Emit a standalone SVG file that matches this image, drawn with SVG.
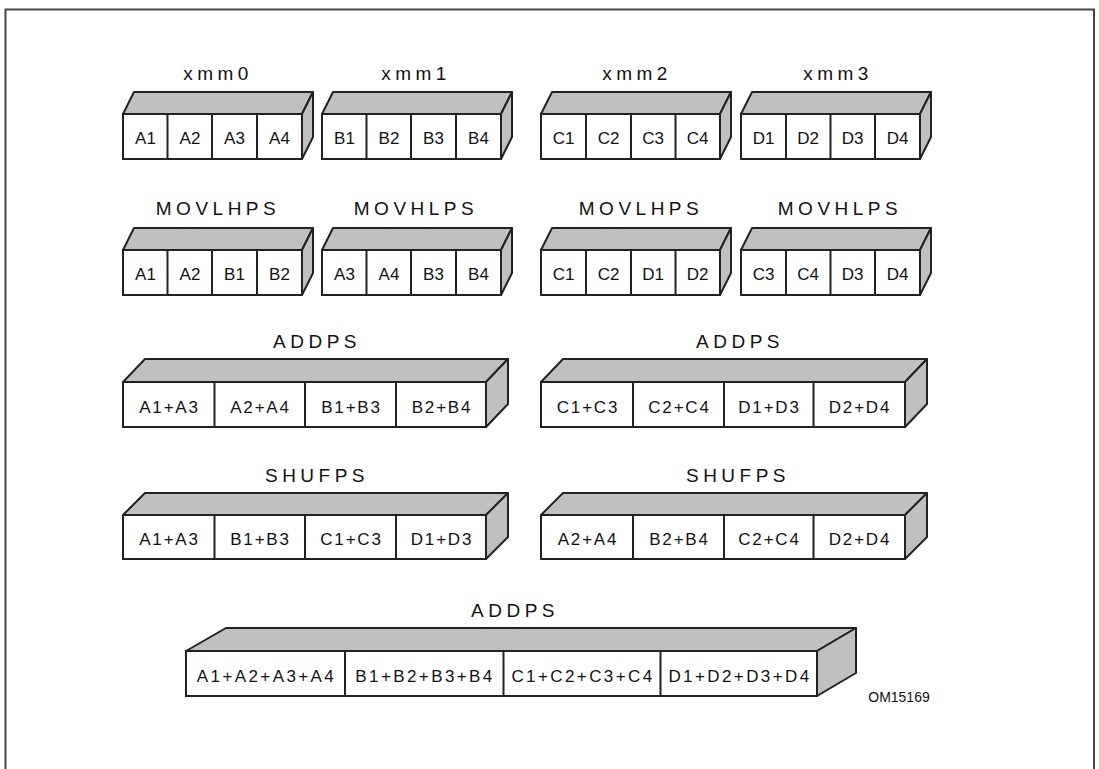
<svg xmlns="http://www.w3.org/2000/svg" width="1099" height="769" viewBox="0 0 1099 769">
<style>
.face{fill:#c0c0c0;stroke:#222;stroke-width:2;stroke-linejoin:round}
.front{fill:#fff;stroke:#222;stroke-width:2}
.div{stroke:#222;stroke-width:2}
.title{font-family:"Liberation Sans",Arial,sans-serif;font-size:19px;letter-spacing:4.5px;fill:#111;text-anchor:middle}
.cell{font-family:"Liberation Sans",Arial,sans-serif;font-size:17px;fill:#111;text-anchor:middle}
.wcell{font-family:"Liberation Sans",Arial,sans-serif;font-size:17px;letter-spacing:1.8px;fill:#111;text-anchor:middle}
.bcell{font-family:"Liberation Sans",Arial,sans-serif;font-size:17px;letter-spacing:2.4px;fill:#111;text-anchor:middle}
.code{font-family:"Liberation Sans",Arial,sans-serif;font-size:14px;fill:#111;text-anchor:middle}
</style>
<rect width="1099" height="769" fill="#fff"/>
<g id="frame">
<path d="M5.5 769 V9.5 H1094 V769" fill="none" stroke="#444" stroke-width="2"/>
</g>

<g id="xmm0">
<text class="title" x="218" y="80">xmm0</text>
<polygon class="face" points="123,114 134,92 313,92 302,114"/>
<polygon class="face" points="302,114 313,92 313,137 302,159"/>
<rect class="front" x="123" y="114" width="179" height="45"/>
<path class="div" d="M167.5 114V159M212 114V159M257 114V159"/>
<text class="cell" x="145.5" y="144">A1</text><text class="cell" x="190" y="144">A2</text><text class="cell" x="234.5" y="144">A3</text><text class="cell" x="279.5" y="144">A4</text>
</g>
<g id="xmm1">
<text class="title" x="416" y="80">xmm1</text>
<polygon class="face" points="322,114 333,92 512,92 501,114"/>
<polygon class="face" points="501,114 512,92 512,137 501,159"/>
<rect class="front" x="322" y="114" width="179" height="45"/>
<path class="div" d="M366.5 114V159M411 114V159M456 114V159"/>
<text class="cell" x="344.5" y="144">B1</text><text class="cell" x="389" y="144">B2</text><text class="cell" x="433.5" y="144">B3</text><text class="cell" x="478.5" y="144">B4</text>
</g>
<g id="xmm2">
<text class="title" x="637" y="80">xmm2</text>
<polygon class="face" points="541,114 552,92 731,92 720,114"/>
<polygon class="face" points="720,114 731,92 731,137 720,159"/>
<rect class="front" x="541" y="114" width="179" height="45"/>
<path class="div" d="M586 114V159M631 114V159M675.5 114V159"/>
<text class="cell" x="563.5" y="144">C1</text><text class="cell" x="608.5" y="144">C2</text><text class="cell" x="653" y="144">C3</text><text class="cell" x="697.5" y="144">C4</text>
</g>
<g id="xmm3">
<text class="title" x="838" y="80">xmm3</text>
<polygon class="face" points="741,114 752,92 931,92 920,114"/>
<polygon class="face" points="920,114 931,92 931,137 920,159"/>
<rect class="front" x="741" y="114" width="179" height="45"/>
<path class="div" d="M786 114V159M830.5 114V159M875 114V159"/>
<text class="cell" x="763.5" y="144">D1</text><text class="cell" x="808" y="144">D2</text><text class="cell" x="852.5" y="144">D3</text><text class="cell" x="897.5" y="144">D4</text>
</g>

<g id="movlhps1">
<text class="title" x="218" y="215">MOVLHPS</text>
<polygon class="face" points="123,250 134,228 313,228 302,250"/>
<polygon class="face" points="302,250 313,228 313,273 302,295"/>
<rect class="front" x="123" y="250" width="179" height="45"/>
<path class="div" d="M167.5 250V295M212 250V295M257 250V295"/>
<text class="cell" x="145.5" y="280">A1</text><text class="cell" x="190" y="280">A2</text><text class="cell" x="234.5" y="280">B1</text><text class="cell" x="279.5" y="280">B2</text>
</g>
<g id="movhlps1">
<text class="title" x="416" y="215">MOVHLPS</text>
<polygon class="face" points="322,250 333,228 512,228 501,250"/>
<polygon class="face" points="501,250 512,228 512,273 501,295"/>
<rect class="front" x="322" y="250" width="179" height="45"/>
<path class="div" d="M366.5 250V295M411 250V295M456 250V295"/>
<text class="cell" x="344.5" y="280">A3</text><text class="cell" x="389" y="280">A4</text><text class="cell" x="433.5" y="280">B3</text><text class="cell" x="478.5" y="280">B4</text>
</g>
<g id="movlhps2">
<text class="title" x="641" y="215">MOVLHPS</text>
<polygon class="face" points="541,250 552,228 731,228 720,250"/>
<polygon class="face" points="720,250 731,228 731,273 720,295"/>
<rect class="front" x="541" y="250" width="179" height="45"/>
<path class="div" d="M586 250V295M631 250V295M675.5 250V295"/>
<text class="cell" x="563.5" y="280">C1</text><text class="cell" x="608.5" y="280">C2</text><text class="cell" x="653" y="280">D1</text><text class="cell" x="697.5" y="280">D2</text>
</g>
<g id="movhlps2">
<text class="title" x="840" y="215">MOVHLPS</text>
<polygon class="face" points="741,250 752,228 931,228 920,250"/>
<polygon class="face" points="920,250 931,228 931,273 920,295"/>
<rect class="front" x="741" y="250" width="179" height="45"/>
<path class="div" d="M786 250V295M830.5 250V295M875 250V295"/>
<text class="cell" x="763.5" y="280">C3</text><text class="cell" x="808" y="280">C4</text><text class="cell" x="852.5" y="280">D3</text><text class="cell" x="897.5" y="280">D4</text>
</g>

<g id="addps1">
<text class="title" x="317" y="348">ADDPS</text>
<polygon class="face" points="123,382 145,359 508,359 486,382"/>
<polygon class="face" points="486,382 508,359 508,404 486,427"/>
<rect class="front" x="123" y="382" width="363" height="45"/>
<path class="div" d="M214.5 382V427M305 382V427M396 382V427"/>
<text class="wcell" x="169.5" y="413">A1+A3</text><text class="wcell" x="260.5" y="413">A2+A4</text><text class="wcell" x="351.5" y="413">B1+B3</text><text class="wcell" x="442" y="413">B2+B4</text>
</g>
<g id="addps2">
<text class="title" x="740" y="348">ADDPS</text>
<polygon class="face" points="541,382 563,359 927,359 905,382"/>
<polygon class="face" points="905,382 927,359 927,404 905,427"/>
<rect class="front" x="541" y="382" width="364" height="45"/>
<path class="div" d="M633 382V427M724 382V427M813.5 382V427"/>
<text class="wcell" x="588" y="413">C1+C3</text><text class="wcell" x="679.5" y="413">C2+C4</text><text class="wcell" x="769.5" y="413">D1+D3</text><text class="wcell" x="860" y="413">D2+D4</text>
</g>

<g id="shufps1">
<text class="title" x="317" y="482">SHUFPS</text>
<polygon class="face" points="123,515 145,493 508,493 486,515"/>
<polygon class="face" points="486,515 508,493 508,537 486,559"/>
<rect class="front" x="123" y="515" width="363" height="44"/>
<path class="div" d="M214.5 515V559M305 515V559M396 515V559"/>
<text class="wcell" x="169.5" y="545">A1+A3</text><text class="wcell" x="260.5" y="545">B1+B3</text><text class="wcell" x="351.5" y="545">C1+C3</text><text class="wcell" x="442" y="545">D1+D3</text>
</g>
<g id="shufps2">
<text class="title" x="738" y="482">SHUFPS</text>
<polygon class="face" points="541,515 563,493 927,493 905,515"/>
<polygon class="face" points="905,515 927,493 927,537 905,559"/>
<rect class="front" x="541" y="515" width="364" height="44"/>
<path class="div" d="M633 515V559M724 515V559M813.5 515V559"/>
<text class="wcell" x="588" y="545">A2+A4</text><text class="wcell" x="679.5" y="545">B2+B4</text><text class="wcell" x="769.5" y="545">C2+C4</text><text class="wcell" x="860" y="545">D2+D4</text>
</g>

<g id="addps3">
<text class="title" x="515" y="617">ADDPS</text>
<polygon class="face" points="186,651 226,628 856,628 817,651"/>
<polygon class="face" points="817,651 856,628 856,673 817,696"/>
<rect class="front" x="186" y="651" width="631" height="45"/>
<path class="div" d="M345 651V696M503.5 651V696M660.5 651V696"/>
<text class="bcell" x="266.5" y="682">A1+A2+A3+A4</text><text class="bcell" x="425" y="682">B1+B2+B3+B4</text><text class="bcell" x="583" y="682">C1+C2+C3+C4</text><text class="bcell" x="740" y="682">D1+D2+D3+D4</text>
</g>

<g id="code">
<text class="code" x="899" y="702">OM15169</text>
</g>
<g id="connectors"/>
</svg>
